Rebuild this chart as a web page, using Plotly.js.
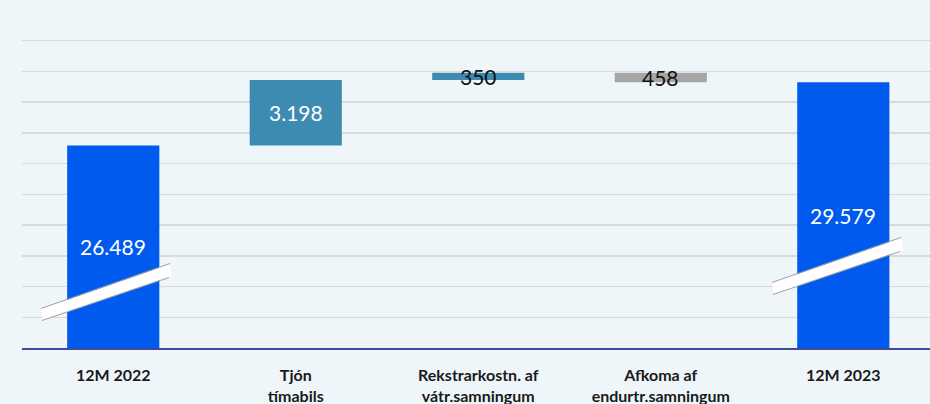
<!DOCTYPE html>
<html><head><meta charset="utf-8">
<script src="https://cdn.plot.ly/plotly-3.0.1.min.js"></script>
<style>html,body{margin:0;padding:0;background:#EFF6FA;}#chart{width:930px;height:404px;}</style>
</head><body><div id="chart"></div>
<script>
// Data
const categories = ["12M 2022", "Tjón<br>tímabils", "Rekstrarkostn. af<br>vátr.samningum", "Afkoma af<br>endurtr.samningum", "12M 2023"];
const measures = ["absolute", "relative", "relative", "relative", "total"];
const values = [26489, 3198, 350, -458, 0];
const totalValue = 29579;
const labelColors = ["#FFFFFF", "#FFFFFF", "#111111", "#111111", "#FFFFFF"];

const yRange = [16600, 33100];

function fmt(v){ return Math.abs(Math.round(v)).toString().replace(/\B(?=(\d{3})+(?!\d))/g, "."); }

// cumulative positions for labels
let run = 0; const bases = [], tops = [];
measures.forEach((m,i)=>{
  if(m==="absolute"){ bases.push(0); run = values[i]; tops.push(run); }
  else if(m==="relative"){ bases.push(run); run += values[i]; tops.push(run); }
  else { bases.push(0); tops.push(run); }
});
const labels = measures.map((m,i)=> m==="total" ? fmt(totalValue) : fmt(values[i]));

const trace = {
  type: "waterfall",
  x: categories,
  y: values,
  measure: measures,
  textinfo: "none",
  connector: {visible: false},
  increasing: {marker: {color: "#3E8BB1"}},
  decreasing: {marker: {color: "#A6A6A6"}},
  totals: {marker: {color: "#005AEE"}},
  hoverinfo: "none"
};

const annotations = categories.map((c,i)=>{
  const lo = Math.max(Math.min(bases[i], tops[i]), yRange[0]);
  const hi = Math.max(bases[i], tops[i]);
  return {
    x: c, y: (lo+hi)/2, xref: "x", yref: "y",
    text: labels[i], showarrow: false,
    font: {family: "Lato", size: 21, color: labelColors[i]},
    xanchor: "center", yanchor: "middle"
  };
});

// axis-break slash decorations (pixel geometry -> paper)
const L = 22, W = 908, T = 10, H = 338;
const px = x => (x - L) / W, py = y => (T + H - y) / H;
function slash(dx, dy){
  const p = [[41,309],[170,264],[172,276],[43,320]].map(([x,y])=>[x+dx,y+dy]);
  const path = "M" + p.map(q=>px(q[0])+","+py(q[1])).join(" L") + " Z";
  return [
    {type:"path", xref:"paper", yref:"paper", path: path, fillcolor:"#FFFFFF", line:{width:0}, layer:"above"},
    {type:"line", xref:"paper", yref:"paper", x0:px(p[0][0]), y0:py(p[0][1]-0.5), x1:px(p[1][0]), y1:py(p[1][1]-0.5), line:{color:"#A0A0A0", width:1}, layer:"above"},
    {type:"line", xref:"paper", yref:"paper", x0:px(p[3][0]-1), y0:py(p[3][1]+0.5), x1:px(p[2][0]-3), y1:py(p[2][1]+1.5), line:{color:"#A0A0A0", width:1}, layer:"above"}
  ];
}
const shapes = [...slash(0,0), ...slash(731,-26)];

const layout = {
  width: 930, height: 404,
  margin: {l: L, r: 0, t: T, b: 404 - T - H},
  paper_bgcolor: "#EFF6FA", plot_bgcolor: "#EFF6FA",
  showlegend: false,
  waterfallgap: 0.495,
  xaxis: {
    type: "category", range: [-0.5, 4.475],
    showline: true, linecolor: "#3F4B9B", linewidth: 2,
    showgrid: false, ticks: "",
    tickfont: {family: "Lato", size: 16, weight: "bold", color: "#1A1A1A"},
    ticklabelstandoff: 12
  },
  yaxis: {
    range: yRange, tick0: yRange[0], dtick: 1500,
    showticklabels: false, showgrid: true, gridcolor: "#DADADA", gridwidth: 1.5,
    zeroline: false, fixedrange: true
  },
  annotations: annotations,
  shapes: shapes
};
Plotly.newPlot("chart", [trace], layout, {displayModeBar: false, staticPlot: true});
</script></body></html>
